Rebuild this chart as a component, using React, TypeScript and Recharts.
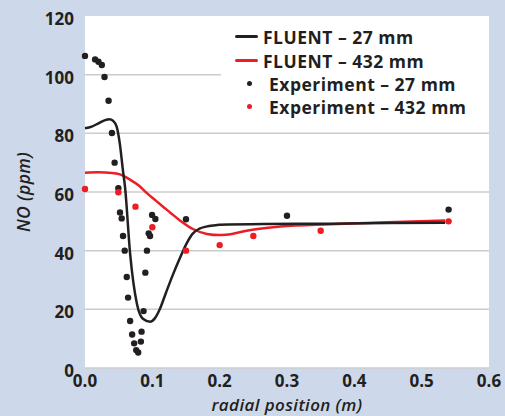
import { ComposedChart, Line, Scatter, XAxis, YAxis, CartesianGrid } from "recharts";

const xTicks = [0, 0.1, 0.2, 0.3, 0.4, 0.5, 0.6];
const yTicks = [0, 20, 40, 60, 80, 100, 120];

// FLUENT model, 27 mm
const fluent27 = [
  { x: 0, y: 81.7 }, { x: 0.01, y: 82.3 }, { x: 0.02, y: 83.4 }, { x: 0.03, y: 84.5 },
  { x: 0.036, y: 84.8 }, { x: 0.042, y: 84.2 }, { x: 0.047, y: 82.3 }, { x: 0.052, y: 76 },
  { x: 0.056, y: 68 }, { x: 0.0594, y: 61.8 }, { x: 0.067, y: 39 }, { x: 0.077, y: 22 },
  { x: 0.086, y: 16.8 }, { x: 0.0966, y: 15.8 }, { x: 0.104, y: 17 }, { x: 0.111, y: 20 },
  { x: 0.12, y: 25.5 }, { x: 0.13, y: 31.5 }, { x: 0.14, y: 37 }, { x: 0.151, y: 42.5 },
  { x: 0.16, y: 45.8 }, { x: 0.17, y: 47.5 }, { x: 0.18, y: 48.2 }, { x: 0.191, y: 48.6 },
  { x: 0.2, y: 48.8 }, { x: 0.265, y: 49.1 }, { x: 0.364, y: 49.2 }, { x: 0.45, y: 49.4 },
  { x: 0.535, y: 49.5 },
];

// FLUENT model, 432 mm
const fluent432 = [
  { x: 0, y: 66.6 }, { x: 0.02, y: 66.7 }, { x: 0.04, y: 66.5 }, { x: 0.052, y: 66 },
  { x: 0.067, y: 64.2 }, { x: 0.08, y: 62.2 }, { x: 0.092, y: 59.6 }, { x: 0.104, y: 57.3 },
  { x: 0.116, y: 55 }, { x: 0.128, y: 52.7 }, { x: 0.141, y: 50.3 }, { x: 0.161, y: 47.3 },
  { x: 0.181, y: 45.7 }, { x: 0.2, y: 45.3 }, { x: 0.22, y: 45.8 }, { x: 0.24, y: 46.8 },
  { x: 0.29, y: 48.2 }, { x: 0.364, y: 49 }, { x: 0.45, y: 49.7 }, { x: 0.535, y: 50.3 },
];

// measurements, 27 mm
const exp27 = [
  { x: 0, y: 106.4 }, { x: 0.015, y: 105.2 }, { x: 0.02, y: 104.4 }, { x: 0.025, y: 103.3 },
  { x: 0.029, y: 99.2 }, { x: 0.035, y: 91.1 }, { x: 0.04, y: 80.1 }, { x: 0.044, y: 70 },
  { x: 0.0495, y: 61.3 }, { x: 0.052, y: 53 }, { x: 0.0545, y: 51 }, { x: 0.0565, y: 45 },
  { x: 0.059, y: 40 }, { x: 0.062, y: 31 }, { x: 0.064, y: 24 }, { x: 0.067, y: 16 },
  { x: 0.07, y: 11.4 }, { x: 0.073, y: 8.4 }, { x: 0.076, y: 6.1 }, { x: 0.079, y: 5.3 },
  { x: 0.083, y: 9 }, { x: 0.084, y: 12.4 }, { x: 0.087, y: 19.4 }, { x: 0.0896, y: 32.5 },
  { x: 0.092, y: 40 }, { x: 0.0946, y: 45.9 }, { x: 0.0966, y: 45 }, { x: 0.0996, y: 52.2 },
  { x: 0.1045, y: 50.8 }, { x: 0.15, y: 50.7 }, { x: 0.3, y: 51.9 }, { x: 0.54, y: 54 },
];

// measurements, 432 mm
const exp432 = [
  { x: 0, y: 61 }, { x: 0.0495, y: 59.9 }, { x: 0.075, y: 55 }, { x: 0.1, y: 48 },
  { x: 0.15, y: 40 }, { x: 0.2, y: 41.9 }, { x: 0.25, y: 45 }, { x: 0.35, y: 46.8 },
  { x: 0.54, y: 50 },
];

const font = "'Open Sans', 'Noto Sans', sans-serif";
const ink = "#231f20";
const red = "#ee1c25";

const Dot = (color: string) => (props: any) => (
  <circle cx={props.cx} cy={props.cy} r={3.2} fill={color} />
);

const legendItems = [
  { label: "FLUENT – 27 mm", color: ink, kind: "line" },
  { label: "FLUENT – 432 mm", color: red, kind: "line" },
  { label: "Experiment – 27 mm", color: ink, kind: "dot" },
  { label: "Experiment – 432 mm", color: red, kind: "dot" },
];

// legend sits over the plot, hiding the top gridline like in the original
const LegendBox = () => (
  <div style={{ position: "absolute", left: 221, top: 16, width: 268, height: 108, background: "#fff", paddingTop: 8, paddingLeft: 14, boxSizing: "border-box" }}>
    {legendItems.map((it, i) => (
      <div key={it.label} style={{ display: "flex", alignItems: "center", height: i === 0 ? 25 : 23, fontFamily: font, fontWeight: 700, fontSize: 17.5, letterSpacing: 0.5, color: ink }}>
        <div style={{ width: 28, display: "flex", justifyContent: it.kind === "line" ? "flex-start" : "center", paddingRight: it.kind === "dot" ? 8 : 0 }}>
          {it.kind === "line" ? (
            <div style={{ width: 23, height: 3, background: it.color, borderRadius: 2 }} />
          ) : (
            <div style={{ width: 5, height: 5, borderRadius: 3, background: it.color }} />
          )}
        </div>
        <span style={{ marginLeft: it.kind === "dot" ? -2 : 0 }}>{it.label}</span>
      </div>
    ))}
  </div>
);

export default function App() {
  return (
    <div style={{ position: "absolute", left: 0, top: 0, width: 505, height: 416, background: "#cdd9ea" }}>
      <ComposedChart width={505} height={416} margin={{ top: 16, right: 16, bottom: 0, left: 0 }}>
        <CartesianGrid vertical={false} fill="#ffffff" stroke="#cccccc" strokeWidth={1.5} horizontalValues={[0, 20, 40, 60, 80, 100]} />
        <XAxis
          type="number"
          dataKey="x"
          domain={[0, 0.6]}
          ticks={xTicks}
          tickFormatter={(v) => v.toFixed(1)}
          axisLine={false}
          tickLine={false}
          tickMargin={1}
          height={48}
          tick={{ fill: ink, fontSize: 17, fontWeight: 700, fontFamily: font }}
          label={{ value: "radial position (m)", position: "insideBottom", offset: 5, style: { fill: ink, fontSize: 17, letterSpacing: 0.4, fontStyle: "italic", fontWeight: 600, fontFamily: font } }}
        />
        <YAxis
          type="number"
          dataKey="y"
          domain={[0, 120]}
          ticks={yTicks}
          axisLine={false}
          tickLine={false}
          width={85}
          tickMargin={5}
          tick={{ fill: ink, fontSize: 17, fontWeight: 700, fontFamily: font, dy: 3 }}
          label={{ value: "NO (ppm)", angle: -90, position: "insideLeft", offset: 24, style: { fill: ink, fontSize: 17.5, letterSpacing: 0.4, fontStyle: "italic", fontWeight: 600, fontFamily: font, textAnchor: "middle" } }}
        />
        <Line data={fluent432} dataKey="y" type="monotone" stroke={red} strokeWidth={2.5} dot={false} isAnimationActive={false} />
        <Line data={fluent27} dataKey="y" type="monotone" stroke={ink} strokeWidth={2.5} dot={false} isAnimationActive={false} />
        <Scatter data={exp27} dataKey="y" fill={ink} shape={Dot(ink)} isAnimationActive={false} />
        <Scatter data={exp432} dataKey="y" fill={red} shape={Dot(red)} isAnimationActive={false} />
      </ComposedChart>
      <LegendBox />
    </div>
  );
}
